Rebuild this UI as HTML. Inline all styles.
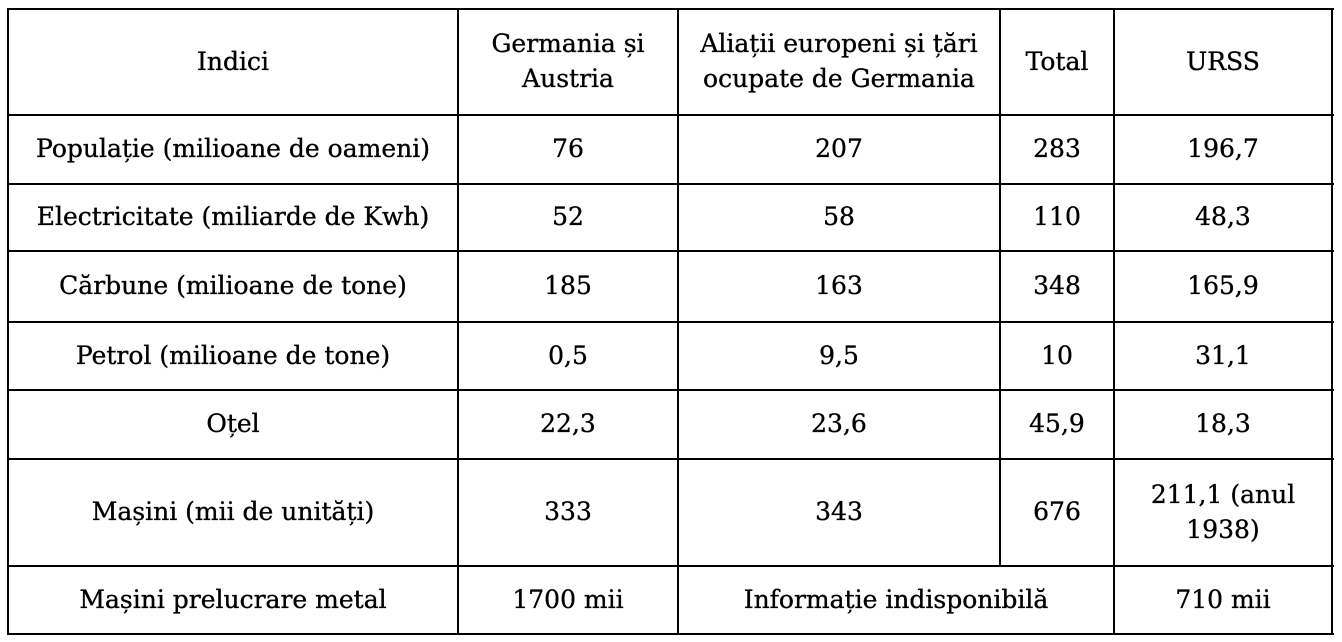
<!DOCTYPE html>
<html>
<head>
<meta charset="utf-8">
<style>
html,body{margin:0;padding:0;background:#fff;}
#c{position:relative;width:1342px;height:642px;overflow:hidden;background:#fff;
  font-family:"DejaVu Serif","Liberation Serif",serif;font-size:25px;color:#000;
  -webkit-text-stroke:0.35px #000;}
.h{position:absolute;height:2px;background:#000;}
.v{position:absolute;width:2px;background:#000;}
.t{position:absolute;display:flex;align-items:center;justify-content:center;text-align:center;
  line-height:35px;white-space:nowrap;margin-top:-1px;}
</style>
</head>
<body>
<div id="c">
  <!-- horizontal lines -->
  <div class="h" style="left:7px;width:1327px;top:8px"></div>
  <div class="h" style="left:7px;width:1327px;top:114px"></div>
  <div class="h" style="left:7px;width:1327px;top:183px"></div>
  <div class="h" style="left:7px;width:1327px;top:250px"></div>
  <div class="h" style="left:7px;width:1327px;top:321px"></div>
  <div class="h" style="left:7px;width:1327px;top:389px"></div>
  <div class="h" style="left:7px;width:1327px;top:458px"></div>
  <div class="h" style="left:7px;width:1327px;top:565px"></div>
  <div class="h" style="left:7px;width:1327px;top:633px"></div>
  <!-- vertical lines -->
  <div class="v" style="left:7px;top:8px;height:627px"></div>
  <div class="v" style="left:457px;top:8px;height:627px"></div>
  <div class="v" style="left:677px;top:8px;height:627px"></div>
  <div class="v" style="left:999px;top:8px;height:558px"></div>
  <div class="v" style="left:1113px;top:8px;height:627px"></div>
  <div class="v" style="left:1331px;top:8px;height:627px"></div>

  <!-- header -->
  <div class="t" style="left:9px;width:448px;top:10px;height:104px">Indici</div>
  <div class="t" style="left:459px;width:218px;top:10px;height:104px">Germania și<br>Austria</div>
  <div class="t" style="left:679px;width:320px;top:10px;height:104px">Aliații europeni și țări<br>ocupate de Germania</div>
  <div class="t" style="left:1001px;width:112px;top:10px;height:104px">Total</div>
  <div class="t" style="left:1115px;width:216px;top:10px;height:104px">URSS</div>

  <!-- row 1 -->
  <div class="t" style="left:9px;width:448px;top:116px;height:67px">Populație (milioane de oameni)</div>
  <div class="t" style="left:459px;width:218px;top:116px;height:67px">76</div>
  <div class="t" style="left:679px;width:320px;top:116px;height:67px">207</div>
  <div class="t" style="left:1001px;width:112px;top:116px;height:67px">283</div>
  <div class="t" style="left:1115px;width:216px;top:116px;height:67px">196,7</div>

  <!-- row 2 -->
  <div class="t" style="left:9px;width:448px;top:185px;height:65px">Electricitate (miliarde de Kwh)</div>
  <div class="t" style="left:459px;width:218px;top:185px;height:65px">52</div>
  <div class="t" style="left:679px;width:320px;top:185px;height:65px">58</div>
  <div class="t" style="left:1001px;width:112px;top:185px;height:65px">110</div>
  <div class="t" style="left:1115px;width:216px;top:185px;height:65px">48,3</div>

  <!-- row 3 -->
  <div class="t" style="left:9px;width:448px;top:252px;height:69px">Cărbune (milioane de tone)</div>
  <div class="t" style="left:459px;width:218px;top:252px;height:69px">185</div>
  <div class="t" style="left:679px;width:320px;top:252px;height:69px">163</div>
  <div class="t" style="left:1001px;width:112px;top:252px;height:69px">348</div>
  <div class="t" style="left:1115px;width:216px;top:252px;height:69px">165,9</div>

  <!-- row 4 -->
  <div class="t" style="left:9px;width:448px;top:323px;height:66px">Petrol (milioane de tone)</div>
  <div class="t" style="left:459px;width:218px;top:323px;height:66px">0,5</div>
  <div class="t" style="left:679px;width:320px;top:323px;height:66px">9,5</div>
  <div class="t" style="left:1001px;width:112px;top:323px;height:66px">10</div>
  <div class="t" style="left:1115px;width:216px;top:323px;height:66px">31,1</div>

  <!-- row 5 -->
  <div class="t" style="left:9px;width:448px;top:391px;height:67px">Oțel</div>
  <div class="t" style="left:459px;width:218px;top:391px;height:67px">22,3</div>
  <div class="t" style="left:679px;width:320px;top:391px;height:67px">23,6</div>
  <div class="t" style="left:1001px;width:112px;top:391px;height:67px">45,9</div>
  <div class="t" style="left:1115px;width:216px;top:391px;height:67px">18,3</div>

  <!-- row 6 -->
  <div class="t" style="left:9px;width:448px;top:460px;height:105px">Mașini (mii de unități)</div>
  <div class="t" style="left:459px;width:218px;top:460px;height:105px">333</div>
  <div class="t" style="left:679px;width:320px;top:460px;height:105px">343</div>
  <div class="t" style="left:1001px;width:112px;top:460px;height:105px">676</div>
  <div class="t" style="left:1115px;width:216px;top:460px;height:105px">211,1 (anul<br>1938)</div>

  <!-- row 7 -->
  <div class="t" style="left:9px;width:448px;top:567px;height:66px">Mașini prelucrare metal</div>
  <div class="t" style="left:459px;width:218px;top:567px;height:66px">1700 mii</div>
  <div class="t" style="left:679px;width:434px;top:567px;height:66px">Informație indisponibilă</div>
  <div class="t" style="left:1115px;width:216px;top:567px;height:66px">710 mii</div>
</div>
</body>
</html>
